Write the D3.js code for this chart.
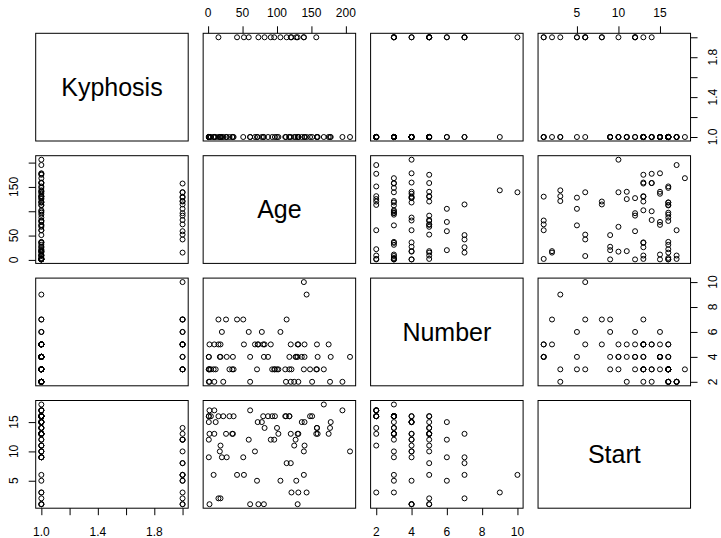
<!DOCTYPE html>
<html>
<head>
<meta charset="utf-8">
<script src="https://cdn.jsdelivr.net/npm/d3@7"></script>
<style>
  body { margin: 0; background: #fff; }
  svg { display: block; }
  .tick line, .domain { stroke: #000; }
  text { font-family: "Liberation Sans", Arial, Helvetica, sans-serif; fill: #000; }
</style>
</head>
<body>
<div id="canvas"></div>
<script>
// kyphosis data (rpart), 81 rows
var kyphosis = ['absent','absent','present','absent','absent','absent','absent','absent','absent','present',
  'present','absent','absent','absent','absent','absent','absent','absent','absent','absent',
  'absent','present','present','absent','present','absent','absent','absent','absent','absent',
  'absent','absent','absent','absent','absent','absent','absent','present','absent','present',
  'present','absent','absent','absent','absent','present','absent','absent','present','absent',
  'absent','absent','present','absent','absent','absent','absent','present','absent','absent',
  'present','present','absent','absent','absent','absent','absent','absent','absent','absent',
  'absent','absent','absent','absent','absent','absent','present','absent','absent','present',
  'absent'];
var age = [71,158,128,2,1,1,61,37,113,59,82,148,18,1,168,1,78,175,80,27,22,105,96,131,15,9,8,100,4,151,
  31,125,130,112,140,93,1,52,20,91,73,35,143,61,97,139,136,131,121,177,68,9,139,2,140,72,2,120,51,102,
  130,114,81,118,118,17,195,159,18,15,158,127,87,206,11,178,157,26,120,42,36];
var number = [3,3,4,5,4,2,2,3,2,6,5,3,5,4,3,3,6,5,5,4,2,6,3,2,7,5,3,3,3,2,
  3,2,5,3,5,3,3,5,6,5,5,3,9,4,3,3,4,5,3,2,5,2,10,2,4,5,3,5,7,3,
  4,7,4,3,4,4,2,4,4,5,5,4,4,4,3,4,3,7,2,7,4];
var start = [5,14,5,1,15,16,17,16,16,12,14,16,2,12,18,16,15,13,16,9,16,5,12,3,2,13,6,14,16,16,
  16,11,13,16,11,16,9,6,9,12,1,13,3,1,16,10,15,13,3,14,10,17,6,17,15,15,13,8,9,13,
  1,8,1,16,16,10,17,13,11,16,14,12,16,10,15,15,13,13,13,6,13];

var varNames = ['Kyphosis','Age','Number','Start'];
var kyphCode = kyphosis.map(function(k){ return k === 'present' ? 2 : 1; });
var columns = [kyphCode, age, number, start];

// tick values and which ones get a label (R drops overlapping ones)
var tickVals = [
  [1.0,1.2,1.4,1.6,1.8,2.0],
  [0,50,100,150,200],
  [2,4,6,8,10],
  [5,10,15]
];
var xLabels = [['1.0','1.4','1.8'], ['0','50','100','150','200'], ['2','4','6','8','10'], ['5','10','15']];
var yLabels = [['1.0','1.4','1.8'], ['0','50','150'], ['2','4','6','8','10'], ['5','10','15']];

var W = 721, H = 538;
var m = {l:35.7, t:33.3};
var pw = 152.5, ph = 107.7, stepX = 167.45, stepY = 122.4;

var svg = d3.select('#canvas').append('svg')
  .attr('width', W).attr('height', H);

// R style axis range: data range extended 4%
function rDomain(v){
  var e = d3.extent(v), pad = (e[1]-e[0])*0.04;
  return [e[0]-pad, e[1]+pad];
}
function fmt(v, i){
  return i === 0 ? d3.format('.1f')(v) : String(v);
}

var xs = [], ys = [];
for (var i = 0; i < 4; i++){
  xs.push(d3.scaleLinear().domain(rDomain(columns[i])).range([0, pw]));
  ys.push(d3.scaleLinear().domain(rDomain(columns[i])).range([ph, 0]));
}

for (var r = 0; r < 4; r++){
  for (var c = 0; c < 4; c++){
    var g = svg.append('g')
      .attr('transform', 'translate(' + (m.l + c*stepX) + ',' + (m.t + r*stepY) + ')');

    if (r === c){
      g.append('text')
        .attr('x', pw/2).attr('y', ph/2)
        .attr('dy', '0.35em')
        .attr('text-anchor', 'middle')
        .style('font-size', '25px')
        .text(varNames[r]);
    } else {
      var xcol = columns[c], ycol = columns[r];
      g.selectAll('circle')
        .data(d3.range(xcol.length))
        .enter().append('circle')
        .attr('cx', function(d){ return xs[c](xcol[d]); })
        .attr('cy', function(d){ return ys[r](ycol[d]); })
        .attr('r', 2.5)
        .attr('fill', 'none')
        .attr('stroke', '#000')
        .attr('stroke-width', 1);
    }

    g.append('rect')
      .attr('width', pw).attr('height', ph)
      .attr('fill', 'none').attr('stroke', '#000').attr('stroke-width', 1);

    // x axes: bottom for columns 1,3 on last row; top for columns 2,4 on first row
    if ((r === 3 && c % 2 === 0) || (r === 0 && c % 2 === 1)){
      var bottom = r === 3;
      var ax = (bottom ? d3.axisBottom(xs[c]) : d3.axisTop(xs[c]))
        .tickValues(tickVals[c]).tickSize(7).tickSizeOuter(0).tickFormat('');
      var ag = g.append('g')
        .attr('transform', 'translate(0,' + (bottom ? ph : 0) + ')')
        .call(ax);
      ag.select('.domain').remove();
      (function(cc){
        g.selectAll('.xlab')
          .data(tickVals[cc].filter(function(v){ return xLabels[cc].indexOf(fmt(v, cc)) >= 0; }))
          .enter().append('text')
          .attr('x', function(v){ return xs[cc](v); })
          .attr('y', bottom ? ph + 23.5 : -21)
          .attr('dy', '0.35em')
          .attr('text-anchor', 'middle')
          .style('font-size', '12px')
          .text(function(v){ return fmt(v, cc); });
      })(c);
    }

    // y axes: left for rows 2,4 on first column; right for rows 1,3 on last column
    if ((c === 0 && r % 2 === 1) || (c === 3 && r % 2 === 0)){
      var isLeft = c === 0;
      var ay = (isLeft ? d3.axisLeft(ys[r]) : d3.axisRight(ys[r]))
        .tickValues(tickVals[r]).tickSize(7).tickSizeOuter(0).tickFormat('');
      var yg = g.append('g')
        .attr('transform', 'translate(' + (isLeft ? 0 : pw) + ',0)')
        .call(ay);
      yg.select('.domain').remove();
      (function(rr){
        g.selectAll('.ylab')
          .data(tickVals[rr].filter(function(v){ return yLabels[rr].indexOf(fmt(v, rr)) >= 0; }))
          .enter().append('text')
          .attr('transform', function(v){
            return 'translate(' + (isLeft ? -22 : pw + 22) + ',' + ys[rr](v) + ') rotate(-90)';
          })
          .attr('dy', '0.35em')
          .attr('text-anchor', 'middle')
          .style('font-size', '12px')
          .text(function(v){ return fmt(v, rr); });
      })(r);
    }
  }
}
</script>
</body>
</html>
